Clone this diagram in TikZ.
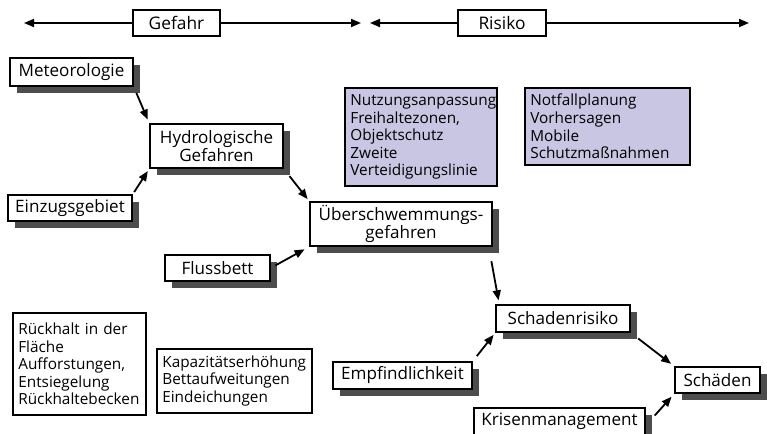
\documentclass[tikz,border=0pt]{standalone}
\usepackage{fontspec}
\setmainfont{Open Sans}
\usetikzlibrary{arrows.meta,shadows,positioning}
\definecolor{shadowgray}{HTML}{4D4D4D}
\definecolor{lavender}{HTML}{C9C6E3}
\tikzset{
    box/.style={draw, line width=1.1pt, fill=white, inner sep=0pt,
        font=\fontsize{11.5}{13.2}\selectfont},
    shadowbox/.style={box, font=\fontsize{12.8}{14}\selectfont,
        drop shadow={shadow xshift=5.25pt, shadow yshift=-5.25pt,
        fill=shadowgray, opacity=1}},
    topbox/.style={box, font=\fontsize{13}{14}\selectfont},
    listbox/.style={box, align=left, inner xsep=4pt},
    flow/.style={-{Triangle[length=7.5pt, width=6pt]}, line width=1.35pt},
    axis/.style={-{Triangle[length=7.5pt, width=6pt]}, line width=1.3pt}
}
\begin{document}
\begin{tikzpicture}[x=0.75pt, y=-0.75pt]
    \useasboundingbox (0, 0) rectangle (767, 433);
    % Gefahr / Risiko
    \coordinate (gl) at (24, 23);
    \coordinate (gr) at (361, 23);
    \coordinate (rl) at (370, 23);
    \coordinate (rr) at (749, 23);
    \node[topbox, minimum width=65.25pt, minimum height=19.5pt] (gefahr) at (176.5, 23) {Gefahr};
    \node[topbox, minimum width=66pt, minimum height=19.5pt] (risiko) at (502, 23) {Risiko};
    \draw[axis] (gefahr) -- (gl);
    \draw[axis] (gefahr) -- (gr);
    \draw[axis] (risiko) -- (rl);
    \draw[axis] (risiko) -- (rr);
    % Gefahrenkette
    \node[shadowbox, minimum width=92.25pt, minimum height=21pt] (met) at (71.5, 72) {Meteorologie};
    \node[shadowbox, minimum width=99.75pt, minimum height=33pt, align=center] (hydro) at (216.5, 146) {Hydrologische\\Gefahren};
    \node[shadowbox, minimum width=93pt, minimum height=19.5pt] (ezg) at (70, 208) {Einzugsgebiet};
    \node[shadowbox, minimum width=136.5pt, minimum height=33pt, align=center] (ueb) at (401, 224) {Überschwemmungs-\\gefahren};
    \node[shadowbox, minimum width=78.75pt, minimum height=19.5pt] (fluss) at (217.5, 268) {Flussbett};
    % Massnahmen
    \node[listbox, fill=lavender, text width=106pt, minimum height=73.5pt] (nutz) at (421, 137)
        {Nutzungsanpassung\\Freihaltezonen,\\Objektschutz\\Zweite\\Verteidigungslinie};
    \node[listbox, fill=lavender, text width=115.75pt, minimum height=57.75pt] (notf) at (607.5, 126.5)
        {Notfallplanung\\Vorhersagen\\Mobile\\Schutzmaßnahmen};
    \node[listbox, text width=91.75pt, minimum height=76.5pt] (rueck) at (79.5, 364)
        {Rückhalt in der\\Fläche\\Aufforstungen,\\Entsiegelung\\Rückhaltebecken};
    \node[listbox, text width=108.25pt, minimum height=48pt] (kapa) at (234.5, 381)
        {Kapazitätserhöhung\\Bettaufweitungen\\Eindeichungen};
    % Risikokette
    \node[shadowbox, minimum width=100.5pt, minimum height=20.25pt] (schrisk) at (563, 318.5) {Schadenrisiko};
    \node[shadowbox, minimum width=104.25pt, minimum height=20.25pt] (empf) at (402.5, 375.5) {Empfindlichkeit};
    \node[shadowbox, minimum width=63.75pt, minimum height=19.5pt] (schaed) at (717.5, 380) {Schäden};
    \node[shadowbox, minimum width=128.25pt, minimum height=20.25pt] (krise) at (559.5, 421.5) {Krisenmanagement};
    % Pfeile
    \draw[flow, shorten <=5pt, shorten >=3pt] (met.south east) -- (hydro.north west);
    \draw[flow, shorten <=2pt, shorten >=2pt] (ezg.north east) -- (hydro.south west);
    \draw[flow, shorten <=7pt, shorten >=2pt] (hydro.south east) -- (ueb.north west);
    \draw[flow, shorten <=4pt, shorten >=4pt] (fluss.east) -- (ueb.south west);
    \draw[flow, shorten <=11pt, shorten >=3pt] ([xshift=-3pt]ueb.south east) -- ([xshift=3pt]schrisk.north west);
    \draw[flow, shorten <=5pt, shorten >=2pt] (empf.north east) -- (schrisk.south west);
    \draw[flow, shorten <=7pt, shorten >=3pt] (schrisk.south east) -- (schaed.north west);
    \draw[flow, shorten <=10pt, shorten >=3pt] ([yshift=-3pt]krise.east) -- (schaed.south west);
\end{tikzpicture}
\end{document}
